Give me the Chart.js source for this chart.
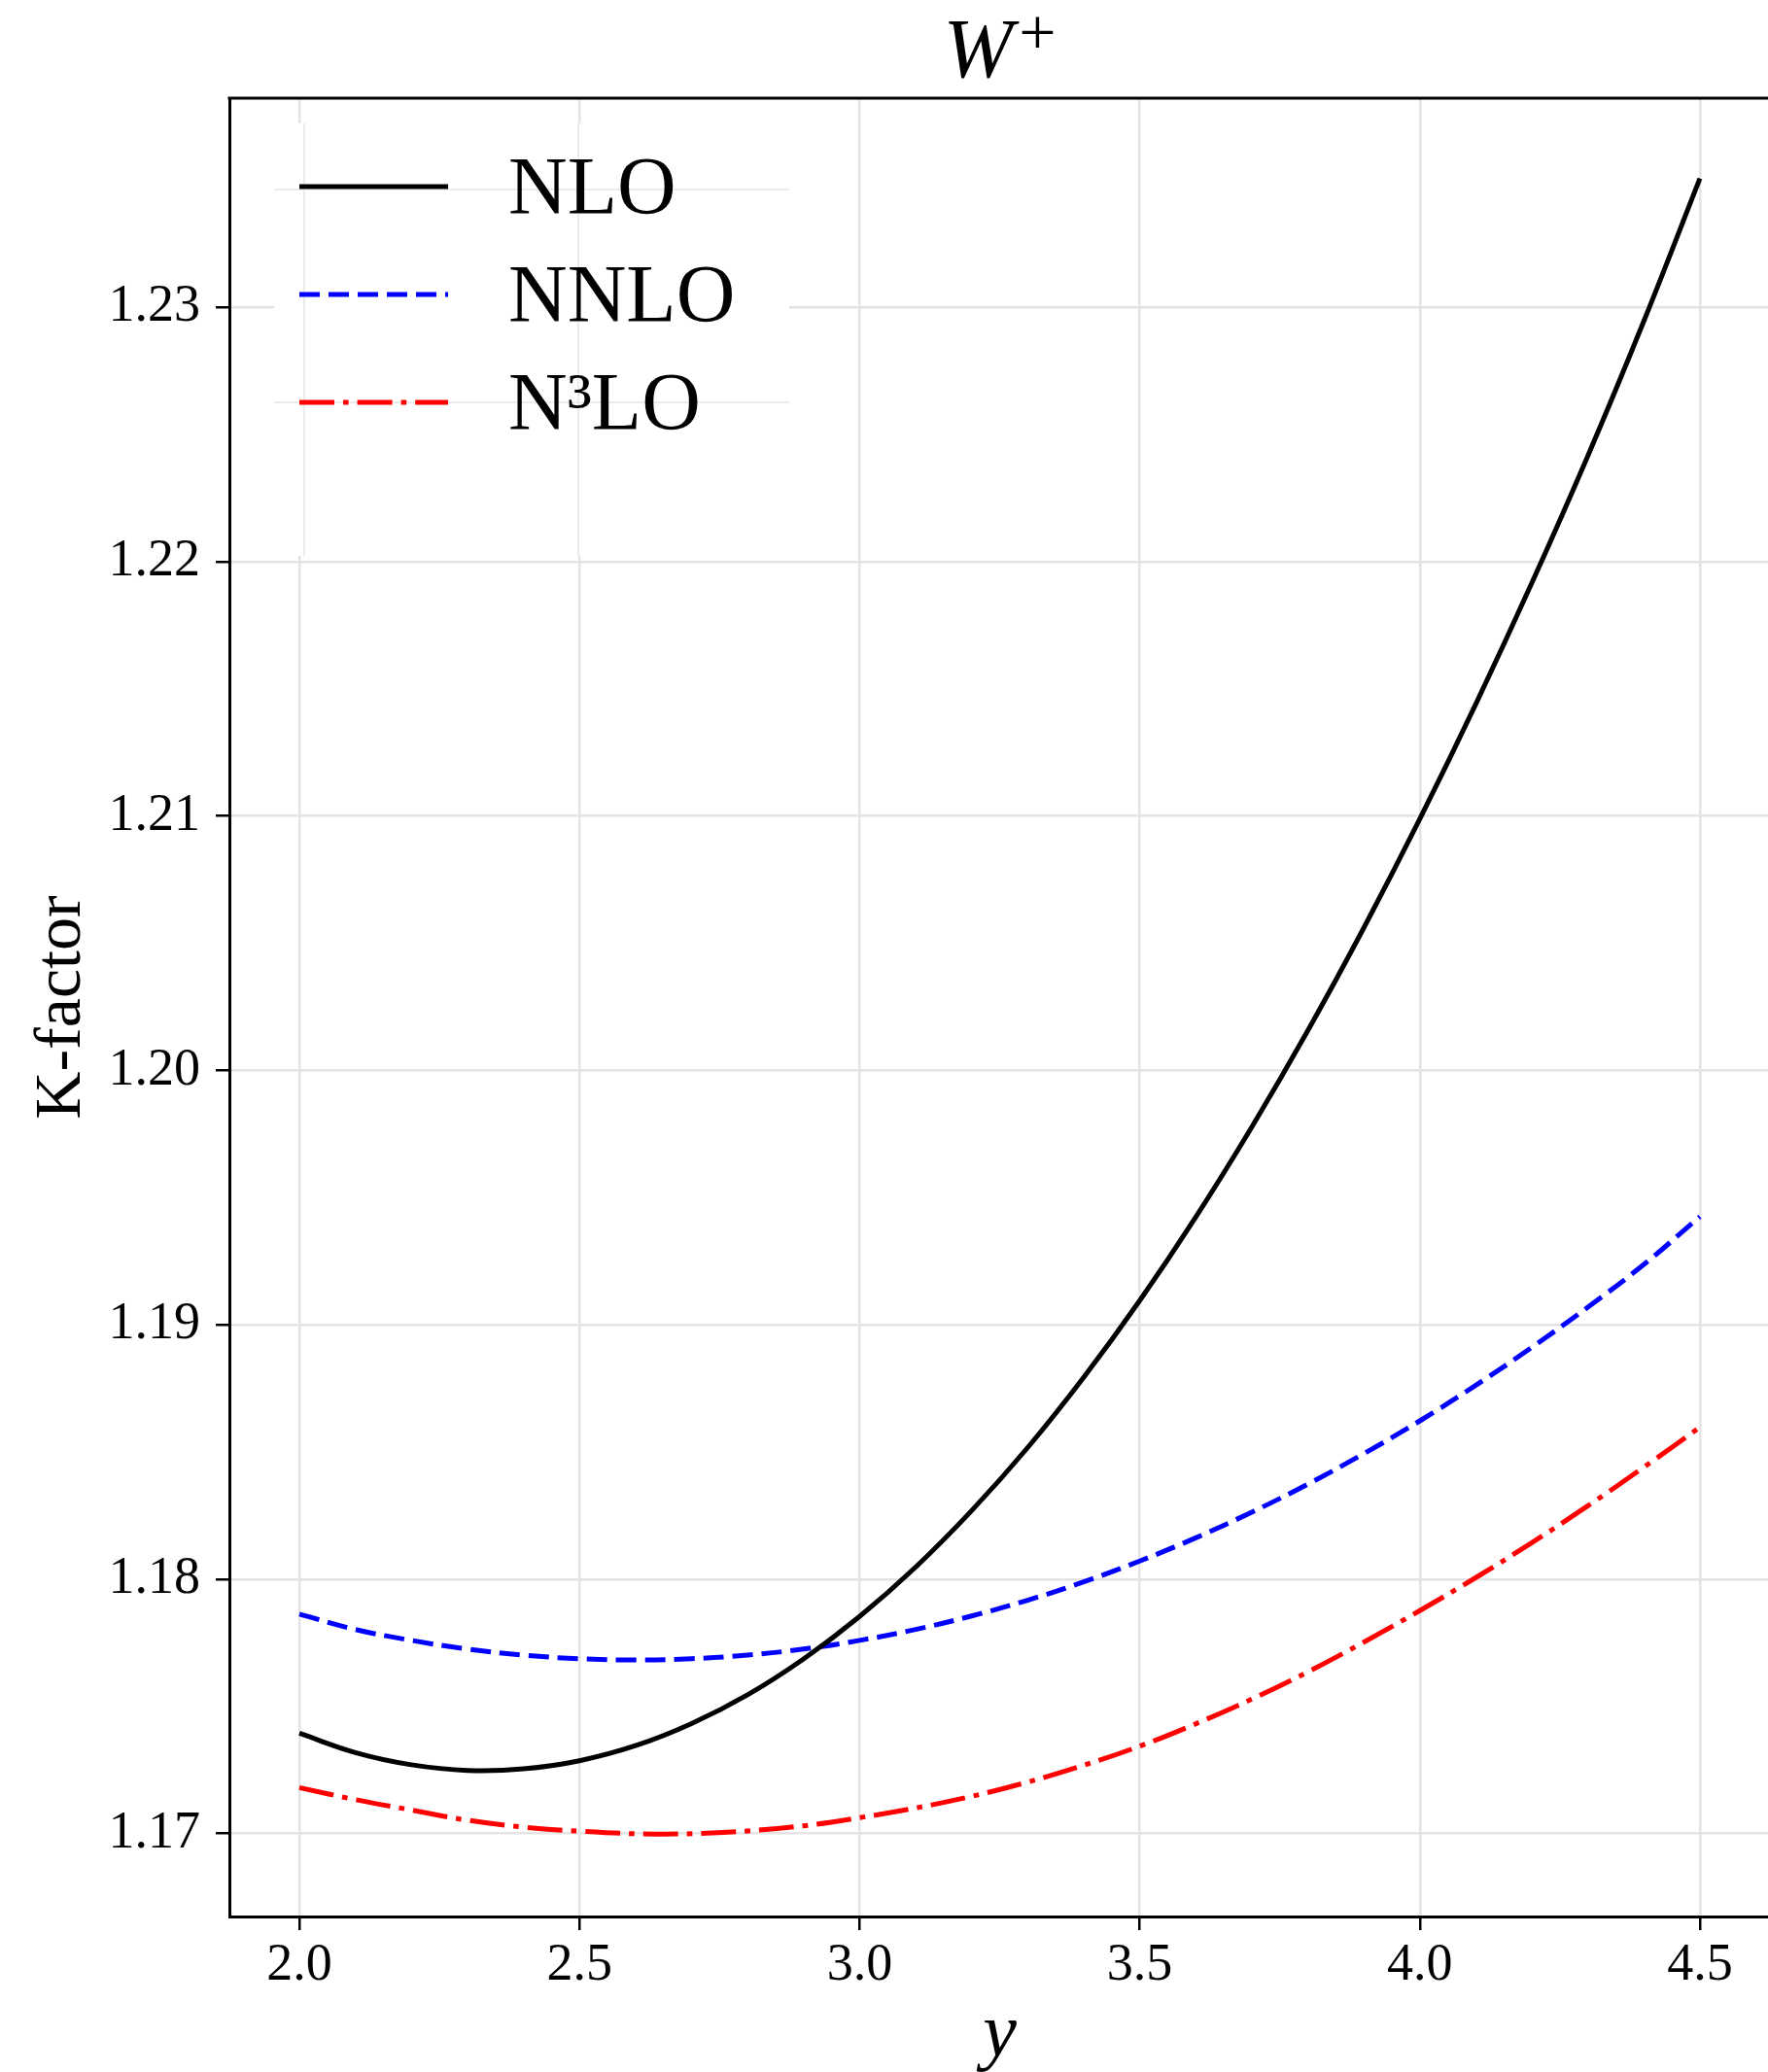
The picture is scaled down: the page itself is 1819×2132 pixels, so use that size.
<!DOCTYPE html>
<html>
<head>
<meta charset="utf-8">
<script src="https://cdn.jsdelivr.net/npm/chart.js@4.4.1/dist/chart.umd.min.js"></script>
<style>
  html, body { margin: 0; padding: 0; background: #fff; overflow: hidden; }
  #wrap { width: 1821px; height: 2132px; }
</style>
</head>
<body>
<div id="wrap"><canvas id="kChart"></canvas></div>
<script>
// ─── DATA ──────────────────────────────────────────────────
const rapidity = [2.0, 2.1, 2.2, 2.3, 2.4, 2.5, 2.6, 2.7, 2.8, 2.9,
                  3.0, 3.1, 3.2, 3.3, 3.4, 3.5, 3.6, 3.7, 3.8, 3.9,
                  4.0, 4.1, 4.2, 4.3, 4.4, 4.5];

const kNLO = [1.17394, 1.17318, 1.17270, 1.17248, 1.17254, 1.17286, 1.17345, 1.17432, 1.17545, 1.17686,
              1.17853, 1.18047, 1.18269, 1.18517, 1.18793, 1.19095, 1.19423, 1.19777, 1.20156, 1.20560,
              1.20988, 1.21440, 1.21916, 1.22416, 1.22946, 1.23506];

const kNNLO = [1.17862, 1.17802, 1.17759, 1.17725, 1.17701, 1.17687, 1.17682, 1.17687, 1.17701, 1.17725,
               1.17759, 1.17802, 1.17855, 1.17917, 1.17989, 1.18071, 1.18162, 1.18263, 1.18373, 1.18493,
               1.18622, 1.18762, 1.18911, 1.19069, 1.19237, 1.19425];

const kN3LO = [1.17180, 1.17133, 1.17092, 1.17052, 1.17025, 1.17009, 1.16999, 1.16999, 1.17010, 1.17030,
               1.17062, 1.17100, 1.17146, 1.17202, 1.17268, 1.17343, 1.17431, 1.17528, 1.17635, 1.17752,
               1.17876, 1.18006, 1.18143, 1.18288, 1.18440, 1.18597];

const seriesLabels = ['NLO', 'NNLO', 'N\u00B3LO'];
const xTicks = [2.0, 2.5, 3.0, 3.5, 4.0, 4.5];
const yTicks = [1.17, 1.18, 1.19, 1.20, 1.21, 1.22, 1.23];

// axis limits (matplotlib-style 5% margins)
const X_MIN = 1.875, X_MAX = 4.625;
const Y_MIN = 1.166735, Y_MAX = 1.238219;

// ─── STYLE ─────────────────────────────────────────────────
const SERIF = '"Liberation Serif", "Times New Roman", serif';
const GRID = '#e4e4e4';
const LW = 5;

function toPoints(ys) {
  return rapidity.map((x, i) => ({ x, y: ys[i] }));
}

function lineSet(label, ys, color, dash) {
  return {
    label,
    data: toPoints(ys),
    borderColor: color,
    borderWidth: LW,
    borderDash: dash,
    borderCapStyle: 'butt',
    pointRadius: 0,
    fill: false,
    tension: 0.4
  };
}

// ─── DECORATIONS: top spine, title, legend ─────────────────
const decor = {
  id: 'decor',
  afterDraw(chart) {
    const { ctx, chartArea: ca } = chart;
    ctx.save();

    // top spine
    ctx.strokeStyle = '#000';
    ctx.lineWidth = 3;
    ctx.beginPath();
    ctx.moveTo(ca.left - 1.5, ca.top);
    ctx.lineTo(ca.right + 2, ca.top);
    ctx.stroke();

    // title W+
    const cx = (ca.left + ca.right) / 2;
    ctx.fillStyle = '#000';
    ctx.textBaseline = 'alphabetic';
    ctx.textAlign = 'left';
    ctx.font = 'italic 86px ' + SERIF;
    const wW = ctx.measureText('W').width;
    ctx.font = '68px ' + SERIF;
    const wP = ctx.measureText('+').width;
    const tx = cx - (wW + 6 + wP) / 2;
    ctx.font = 'italic 86px ' + SERIF;
    ctx.fillText('W', tx, 79);
    ctx.font = '68px ' + SERIF;
    ctx.fillText('+', tx + wW + 6, 56);

    // legend box (white, covers grid)
    const bx = ca.left + 46, by = ca.top + 26, bw = 530, bh = 445;
    ctx.fillStyle = '#fff';
    ctx.fillRect(bx, by, bw, bh);
    ctx.strokeStyle = '#ececec';
    ctx.lineWidth = 2;
    ctx.beginPath();
    [77, 359].forEach(dx => { ctx.moveTo(ca.left + dx, by); ctx.lineTo(ca.left + dx, by + bh); });
    [94, 313].forEach(dy => { ctx.moveTo(bx, ca.top + dy); ctx.lineTo(bx + bw, ca.top + dy); });
    ctx.stroke();

    const rows = [91, 202, 313];
    chart.data.datasets.forEach((ds, i) => {
      const y = ca.top + rows[i];
      ctx.strokeStyle = ds.borderColor;
      ctx.lineWidth = LW;
      ctx.lineCap = 'butt';
      ctx.setLineDash(ds.borderDash || []);
      ctx.beginPath();
      ctx.moveTo(ca.left + 72, y);
      ctx.lineTo(ca.left + 225, y);
      ctx.stroke();
      ctx.setLineDash([]);
      ctx.fillStyle = '#000';
      ctx.font = '84px ' + SERIF;
      ctx.textAlign = 'left';
      ctx.textBaseline = 'alphabetic';
      ctx.fillText(ds.label, ca.left + 287, y + 28);
    });

    ctx.restore();
  }
};

// ─── CHART ─────────────────────────────────────────────────
const ctx = document.getElementById('kChart').getContext('2d');
const kChart = new Chart(ctx, {
  type: 'line',
  data: {
    datasets: [
      lineSet(seriesLabels[0], kNLO, '#000000', []),
      lineSet(seriesLabels[1], kNNLO, '#0000ff', [21, 9]),
      lineSet(seriesLabels[2], kN3LO, '#ff0000', [36, 9, 5.6, 9])
    ]
  },
  options: {
    responsive: true,
    maintainAspectRatio: false,
    animation: false,
    layout: { padding: { top: 101, right: 0, bottom: 0, left: 0 } },
    plugins: {
      legend: { display: false },
      tooltip: { enabled: false }
    },
    scales: {
      x: {
        type: 'linear',
        min: X_MIN,
        max: X_MAX,
        afterBuildTicks: s => { s.ticks = xTicks.map(v => ({ value: v })); },
        afterFit: s => { s.height = 160; },
        ticks: {
          callback: v => Number(v).toFixed(1),
          color: '#000',
          font: { family: SERIF, size: 54 },
          padding: 4,
          maxRotation: 0,
          autoSkip: false
        },
        grid: { color: GRID, lineWidth: 2.5, tickColor: '#000', tickLength: 14, tickWidth: 2.5 },
        border: { color: '#000', width: 3 },
        title: {
          display: true,
          text: 'y',
          color: '#000',
          font: { family: SERIF, style: 'italic', size: 78, lineHeight: 0.95 },
          padding: { top: 0, bottom: 0 }
        }
      },
      y: {
        type: 'linear',
        min: Y_MIN,
        max: Y_MAX,
        afterBuildTicks: s => { s.ticks = yTicks.map(v => ({ value: v })); },
        afterFit: s => { s.width = 236; },
        ticks: {
          callback: v => Number(v).toFixed(2),
          color: '#000',
          font: { family: SERIF, size: 54 },
          padding: 16,
          autoSkip: false
        },
        grid: { color: GRID, lineWidth: 2.5, tickColor: '#000', tickLength: 14, tickWidth: 2.5 },
        border: { color: '#000', width: 3 },
        title: {
          display: true,
          text: 'K-factor',
          color: '#000',
          font: { family: SERIF, size: 68, lineHeight: 1 },
          padding: { top: 30, bottom: 0 }
        }
      }
    }
  },
  plugins: [decor]
});
</script>
</body>
</html>
